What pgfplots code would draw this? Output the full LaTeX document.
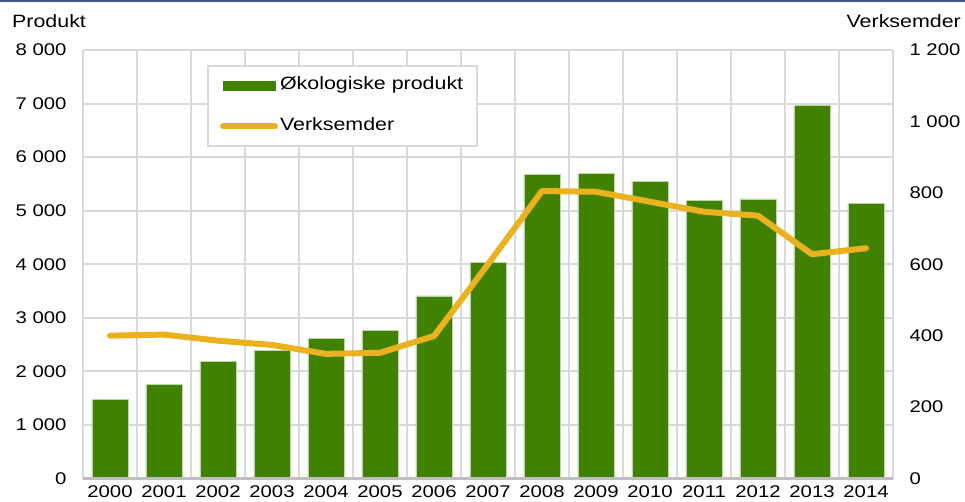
\documentclass[border=0pt]{standalone}
\usepackage{fontspec}
\setmainfont{Liberation Sans}[FakeStretch=1.2]
\usepackage{pgfplots}
\pgfplotsset{compat=1.18}
\definecolor{barG}{RGB}{64,130,0}
\definecolor{barE}{RGB}{190,215,170}
\definecolor{lineY}{RGB}{235,178,32}
\definecolor{gridG}{RGB}{217,217,217}
\definecolor{axG}{RGB}{191,191,191}
\definecolor{topB}{RGB}{64,84,130}
\newcommand{\lblfont}{\fontsize{17}{20}\selectfont}
\newcommand{\txtfont}{\fontsize{17.9}{21}\selectfont}
\begin{document}
\begin{tikzpicture}
\pgfplotsset{
 common/.style={
  at={(83bp,23.5bp)}, anchor=south west,
  scale only axis, width=810bp, height=428.5bp,
  xmin=-0.5, xmax=14.5,
  axis line style={draw=none},
  tick style={draw=none},
  font=\lblfont,
  /pgf/number format/assume math mode=true,
  /pgf/number format/1000 sep={\ },
  clip=false,
 }}
\begin{axis}[common,
 ymin=0, ymax=8000, ytick={0,1000,...,8000},
 xtick={0,...,14},
 xticklabels={2000,2001,2002,2003,2004,2005,2006,2007,2008,2009,2010,2011,2012,2013,2014},
 minor xtick={-0.5,0.5,...,14.5},
 xminorgrids=true, ymajorgrids=true,
 grid style={draw=gridG, line width=2bp},
 minor grid style={draw=gridG, line width=2bp},
 yticklabel style={xshift=-13bp},
 xticklabel style={yshift=-4bp},
 legend cell align=left,
 legend style={at={(axis description cs:0.1531,0.965)}, anchor=north west,
   draw=gridG, line width=2bp, fill=white, inner xsep=12bp, inner ysep=9bp,
   row sep=20bp, font=\txtfont,
   nodes={inner sep=2bp, text height=13bp, text depth=4bp}},
]
\addplot[ybar, bar width=0.667, fill=barG, draw=barE, line width=0.6bp,
  legend image code/.code={\fill[barG] (0bp,-4.5bp) rectangle (52bp,4.5bp);}]
 coordinates {(0,1470) (1,1750) (2,2190) (3,2390) (4,2620) (5,2770) (6,3410) (7,4030)
   (8,5670) (9,5700) (10,5550) (11,5190) (12,5220) (13,6960) (14,5130)};
\addlegendentry{Økologiske produkt}
\addlegendimage{legend image code/.code={\draw[lineY, line width=6bp, line cap=round] (0bp,0bp) -- (52bp,0bp);}}
\addlegendentry{Verksemder}
\draw[axG, line width=2.5bp] (rel axis cs:0,0) -- (rel axis cs:1,0);
\end{axis}
\begin{axis}[common,
 ymin=0, ymax=1200, ytick={0,200,...,1200},
 yticklabel pos=right,
 yticklabel style={anchor=west, xshift=13bp},
 xtick=\empty,
]
\addplot[lineY, line width=6bp, line join=round, line cap=round]
 coordinates {(0,400) (1,403) (2,386) (3,374) (4,349) (5,352) (6,399) (7,600)
   (8,805) (9,803) (10,775) (11,747) (12,736) (13,628) (14,645)};
\end{axis}
\node[anchor=base west, inner sep=0pt, font=\txtfont] at (12bp,474.7bp) {Produkt};
\node[anchor=base east, inner sep=0pt, font=\txtfont] at (961bp,474.7bp) {Verksemder};
\fill[topB] (0bp,500bp) rectangle (965bp,502bp);
\pgfresetboundingbox
\useasboundingbox (0bp,0bp) rectangle (965bp,502bp);
\end{tikzpicture}
\end{document}
